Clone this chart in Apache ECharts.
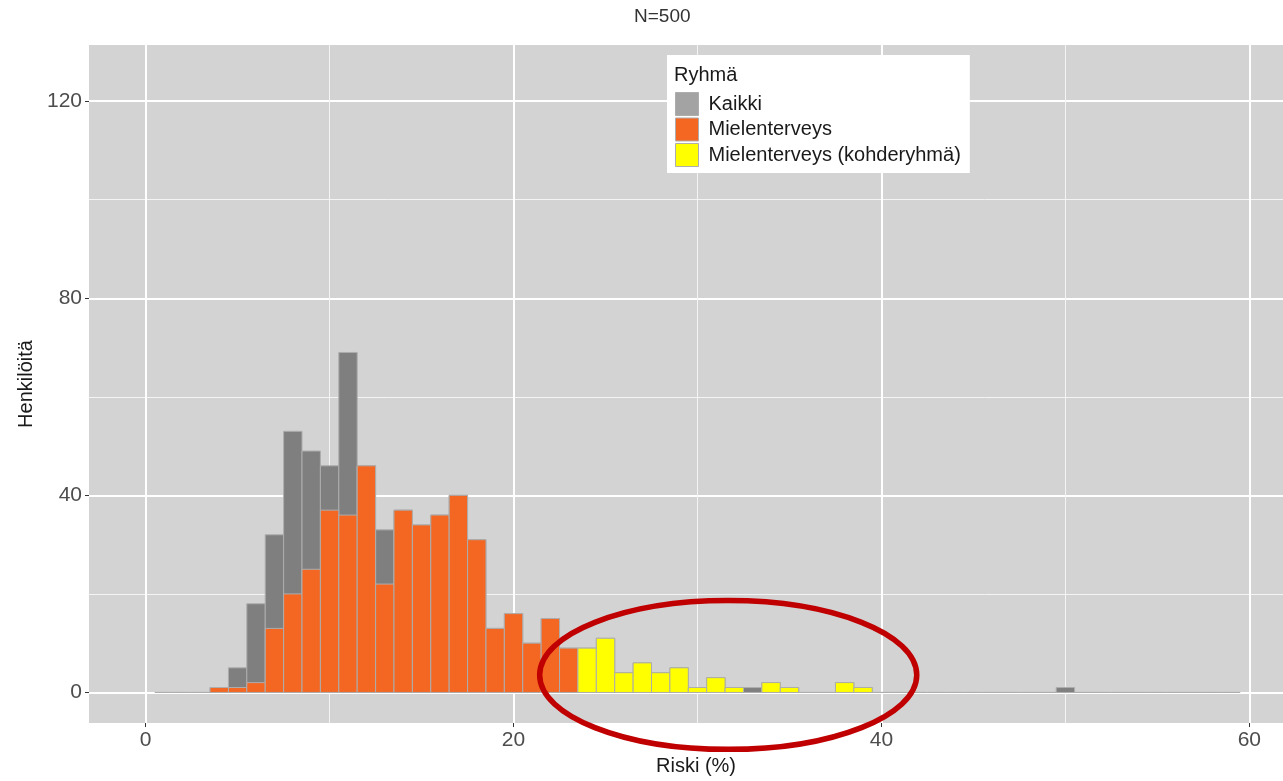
<!DOCTYPE html>
<html>
<head>
<meta charset="utf-8">
<script src="https://cdn.jsdelivr.net/npm/echarts@6/dist/echarts.min.js"></script>
<style>
html,body{margin:0;padding:0;background:#fff;}
#chart{width:1283px;height:781px;}
</style>
</head>
<body>
<div id="chart"></div>
<script>
// ---- data (histogram, bin width 1, bins centred on integers) ----
const binCenters = [1,2,3,4,5,6,7,8,9,10,11,12,13,14,15,16,17,18,19,20,21,22,23,24,25,26,27,28,29,30,
                    31,32,33,34,35,36,37,38,39,40,41,42,43,44,45,46,47,48,49,50,51,52,53,54,55,56,57,58,59];
const kaikki = [0,0,0,1,5,18,32,53,49,46,
                69,46,33,37,34,36,40,31,13,16,
                10,15,9,9,11,4,6,4,5,1,
                3,1,1,2,1,0,0,2,1,0,
                0,0,0,0,0,0,0,0,0,1,
                0,0,0,0,0,0,0,0,0];
const mielenterveys = [0,0,0,1,1,2,13,20,25,37,
                       36,46,22,37,34,36,40,31,13,16,
                       10,15,9,0,0,0,0,0,0,0,
                       0,0,0,0,0,0,0,0,0,0,
                       0,0,0,0,0,0,0,0,0,0,
                       0,0,0,0,0,0,0,0,0];
const kohderyhma = [0,0,0,0,0,0,0,0,0,0,
                    0,0,0,0,0,0,0,0,0,0,
                    0,0,0,9,11,4,6,4,5,1,
                    3,1,0,2,1,0,0,2,1,0,
                    0,0,0,0,0,0,0,0,0,0,
                    0,0,0,0,0,0,0,0,0];
const seriesNames = ['Kaikki', 'Mielenterveys', 'Mielenterveys (kohderyhmä)'];
const xTicks = [0, 20, 40, 60];
const xMinorTicks = [10, 30, 50];
const yTicks = [0, 40, 80, 120];
const yMinorTicks = [20, 60, 100];

// ---- styling ----
const FONT = 'Liberation Sans, Arial, sans-serif';
const colors = ['#7f7f7f', '#F36723', '#FFFF00'];
const legendColors = ['#a3a3a3', '#F36723', '#FFFF00'];
const EDGE = '#adadad';
const HALF = 0.5;
const X_MIN = -3.08, X_MAX = 61.83, Y_MIN = -6.2, Y_MAX = 131.4;

function toData(vals, keepZero) {
  const out = [];
  for (let i = 0; i < binCenters.length; i++) {
    if (keepZero || vals[i] > 0) out.push([binCenters[i], vals[i]]);
  }
  return out;
}
function makeRender(color) {
  return function (params, api) {
    const x = api.value(0), y = api.value(1);
    const p0 = api.coord([x - HALF, y]);
    const p1 = api.coord([x + HALF, 0]);
    return {
      type: 'rect',
      shape: { x: p0[0], y: p0[1], width: p1[0] - p0[0], height: p1[1] - p0[1] },
      style: { fill: color, stroke: EDGE, lineWidth: 1 }
    };
  };
}

const chart = echarts.init(document.getElementById('chart'), null, { renderer: 'canvas' });
const allVals = [kaikki, mielenterveys, kohderyhma];

const option = {
  animation: false,
  backgroundColor: '#ffffff',
  textStyle: { fontFamily: FONT },
  title: [
    { text: 'N=500', left: 634, top: 7, padding: 0,
      textStyle: { fontSize: 19, fontWeight: 'normal', color: '#333333', fontFamily: FONT } },
    { text: 'Ryhmä', left: 674, top: 65, padding: 0, z: 10,
      textStyle: { fontSize: 20, fontWeight: 'normal', color: '#1a1a1a', fontFamily: FONT } }
  ],
  legend: {
    orient: 'vertical',
    left: 667, top: 55,
    padding: [37, 9, 6, 8],
    backgroundColor: '#ffffff',
    itemWidth: 23, itemHeight: 23, itemGap: 1.5,
    icon: 'rect',
    selectedMode: false,
    textStyle: { fontSize: 20, color: '#1a1a1a', fontFamily: FONT, padding: [0, 0, 0, 5] },
    data: seriesNames.map((n, i) => ({
      name: n,
      itemStyle: { color: legendColors[i], borderColor: EDGE, borderWidth: 1 }
    }))
  },
  grid: {
    left: 89, right: 0, top: 45, bottom: 57,
    show: true, backgroundColor: '#d3d3d3', borderWidth: 0
  },
  xAxis: [
    {
      type: 'value', min: X_MIN, max: X_MAX,
      name: 'Riski (%)', nameLocation: 'middle', nameGap: 33,
      nameTextStyle: { fontSize: 20, color: '#1a1a1a', padding: [0, 0, 0, 20] },
      axisLine: { show: false, onZero: false },
      axisTick: { show: true, customValues: xTicks, length: 4, lineStyle: { color: '#333333', width: 1 } },
      axisLabel: { customValues: xTicks, fontSize: 21, color: '#4d4d4d', margin: 7 },
      splitLine: { show: true, lineStyle: { color: '#ffffff', width: 2 } }
    },
    {
      type: 'value', min: X_MIN, max: X_MAX, position: 'top',
      axisLine: { show: false, onZero: false },
      axisTick: { show: false, customValues: xMinorTicks },
      axisLabel: { show: false, customValues: xMinorTicks },
      splitLine: { show: true, lineStyle: { color: '#f4f4f4', width: 1 } }
    }
  ],
  yAxis: [
    {
      type: 'value', min: Y_MIN, max: Y_MAX,
      name: 'Henkilöitä', nameLocation: 'middle', nameGap: 45,
      nameTextStyle: { fontSize: 20, color: '#1a1a1a' },
      axisLine: { show: false, onZero: false },
      axisTick: { show: true, customValues: yTicks, length: 4, lineStyle: { color: '#333333', width: 1 } },
      axisLabel: { customValues: yTicks, fontSize: 21, color: '#4d4d4d', margin: 7 },
      splitLine: { show: true, lineStyle: { color: '#ffffff', width: 2 } }
    },
    {
      type: 'value', min: Y_MIN, max: Y_MAX, position: 'right',
      axisLine: { show: false, onZero: false },
      axisTick: { show: false, customValues: yMinorTicks },
      axisLabel: { show: false, customValues: yMinorTicks },
      splitLine: { show: true, lineStyle: { color: '#f4f4f4', width: 1 } }
    }
  ],
  series: seriesNames.map((n, i) => ({
    name: n,
    type: 'custom',
    xAxisIndex: 0, yAxisIndex: 0,
    itemStyle: { color: colors[i] },
    encode: { x: 0, y: 1 },
    renderItem: makeRender(colors[i]),
    data: toData(allVals[i], i === 0),
    silent: true
  }))
};
chart.setOption(option);

// red ellipse annotation around the target group region
const ELL_CENTER = [31.67, 3.55];
const ELL_RADII = [10.25, 15.1];
const c = chart.convertToPixel({ gridIndex: 0 }, ELL_CENTER);
const e = chart.convertToPixel({ gridIndex: 0 }, [ELL_CENTER[0] + ELL_RADII[0], ELL_CENTER[1] + ELL_RADII[1]]);
chart.setOption({
  graphic: [{
    type: 'ellipse', z: 100, silent: true,
    shape: { cx: c[0], cy: c[1], rx: e[0] - c[0], ry: c[1] - e[1] },
    style: { fill: 'rgba(0,0,0,0)', stroke: '#C00000', lineWidth: 5.5 }
  }]
});
</script>
</body>
</html>
